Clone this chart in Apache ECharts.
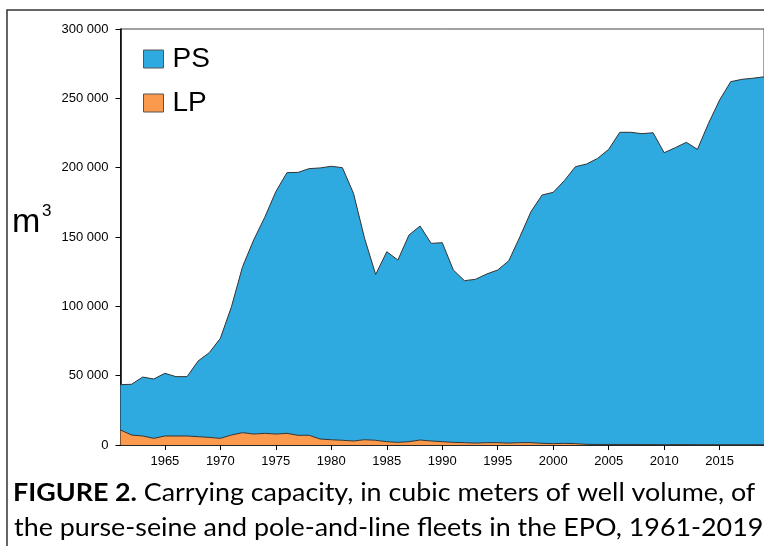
<!DOCTYPE html>
<html>
<head>
<meta charset="utf-8">
<script src="https://cdn.jsdelivr.net/npm/echarts@6/dist/echarts.min.js"></script>
<style>
  html, body { margin: 0; padding: 0; background: #fff; }
  #chart { width: 764px; height: 546px; }
</style>
</head>
<body>
<div id="chart"></div>
<script>
// years on the x axis
const years = [
  1961, 1962, 1963, 1964, 1965, 1966, 1967, 1968, 1969, 1970,
  1971, 1972, 1973, 1974, 1975, 1976, 1977, 1978, 1979, 1980,
  1981, 1982, 1983, 1984, 1985, 1986, 1987, 1988, 1989, 1990,
  1991, 1992, 1993, 1994, 1995, 1996, 1997, 1998, 1999, 2000,
  2001, 2002, 2003, 2004, 2005, 2006, 2007, 2008, 2009, 2010,
  2011, 2012, 2013, 2014, 2015, 2016, 2017, 2018, 2019
]

// pole-and-line (bottom of the stack), m3
const lpValues = [
  10800, 7200, 6500, 4800, 6500, 6500, 6500, 6000, 5500, 4800,
  7200, 8900, 7900, 8400, 7900, 8400, 7000, 7000, 4300, 3800,
  3400, 2900, 3800, 3400, 2400, 1900, 2400, 3600, 2900, 2400,
  1900, 1700, 1400, 1700, 1700, 1400, 1700, 1700, 1200, 1000,
  1200, 1000, 500, 400, 400, 400, 400, 300, 300, 200,
  300, 300, 200, 200, 200, 200, 200, 200, 200
]

// purse-seine (stacked on top of LP), m3
const psValues = [
  32700, 36600, 42500, 42800, 45200, 42800, 42800, 54600, 61100, 72100,
  92500, 119700, 139900, 155800, 174800, 188000, 189600, 192300, 195500, 197200,
  196600, 178600, 145200, 119600, 137000, 131500, 149000, 154300, 142500, 143500,
  124300, 116800, 118100, 121600, 124500, 131500, 148500, 166600, 179100, 181200,
  189400, 199700, 202100, 206300, 212800, 225100, 225100, 224200, 224900, 210600,
  214100, 218000, 213000, 231800, 248600, 261800, 263500, 264300, 265300
]

const seriesNames = ['PS', 'LP']
const psColor = '#2eaae1'
const lpColor = '#fb9a4c'

const chart = echarts.init(document.getElementById('chart'))

const fmt = v => String(v).replace(/\B(?=(\d{3})+(?!\d))/g, ' ')
const every5 = (i, v) => Number(v) % 5 === 0

const option = {
  animation: false,
  backgroundColor: '#fff',
  grid: {
    left: 120.5,
    top: 29,
    right: -5.5,
    bottom: 101,
    show: true,
    borderColor: '#444',
    borderWidth: 1
  },
  legend: {
    data: seriesNames,
    orient: 'vertical',
    left: 143,
    top: 45,
    padding: 0,
    itemWidth: 20,
    itemHeight: 18,
    itemGap: 16,
    icon: 'rect',
    itemStyle: { borderColor: '#555', borderWidth: 1 },
    textStyle: {
      fontFamily: 'Liberation Sans, Arial, sans-serif',
      fontSize: 28,
      color: '#000',
      padding: [0, 0, 0, 4]
    }
  },
  xAxis: {
    type: 'category',
    data: years,
    boundaryGap: false,
    axisLine: { lineStyle: { color: '#000', width: 1.5 } },
    axisTick: { interval: every5, length: 5, lineStyle: { color: '#000' } },
    axisLabel: {
      interval: every5,
      margin: 10,
      fontFamily: 'Liberation Sans, Arial, sans-serif',
      fontSize: 13,
      color: '#000'
    },
    splitLine: { show: false }
  },
  yAxis: {
    type: 'value',
    min: 0,
    max: 300000,
    interval: 50000,
    axisLine: { show: true, lineStyle: { color: '#000', width: 1.5 } },
    axisTick: { show: true, length: 5, lineStyle: { color: '#000' } },
    axisLabel: {
      margin: 12,
      fontFamily: 'Liberation Sans, Arial, sans-serif',
      fontSize: 13,
      color: '#000',
      formatter: fmt
    },
    splitLine: { show: false }
  },
  series: [
    {
      name: 'LP',
      type: 'line',
      stack: 'total',
      data: lpValues,
      symbol: 'none',
      lineStyle: { color: '#333', width: 1 },
      areaStyle: { color: lpColor, opacity: 1 },
      itemStyle: { color: lpColor }
    },
    {
      name: 'PS',
      type: 'line',
      stack: 'total',
      data: psValues,
      symbol: 'none',
      lineStyle: { color: '#333', width: 1 },
      areaStyle: { color: psColor, opacity: 1 },
      itemStyle: { color: psColor }
    }
  ],
  graphic: [
    {
      type: 'rect',
      silent: true,
      shape: { x: 7, y: 10, width: 900, height: 700 },
      style: { fill: null, stroke: '#333', lineWidth: 1.5 }
    },
    {
      type: 'text',
      left: 12,
      top: 206,
      style: {
        text: 'm',
        font: '34px "Liberation Sans", Arial, sans-serif',
        fill: '#000'
      }
    },
    {
      type: 'text',
      left: 42,
      top: 203,
      style: {
        text: '3',
        font: '17px "Liberation Sans", Arial, sans-serif',
        fill: '#000'
      }
    },
    {
      // caption, stretched a little to the width of the figure
      type: 'text',
      x: 13,
      y: 493,
      scaleX: 1.075,
      style: {
        text: '{b|FIGURE 2.} Carrying capacity, in cubic meters of well volume, of',
        font: '25px Lato, sans-serif',
        fill: '#000',
        verticalAlign: 'middle',
        rich: { b: { font: 'bold 25px Lato, sans-serif', fill: '#000' } }
      }
    },
    {
      type: 'text',
      x: 14,
      y: 528,
      scaleX: 1.075,
      style: {
        text: 'the purse-seine and pole-and-line fleets in the EPO, 1961-2019',
        font: '25px Lato, sans-serif',
        fill: '#000',
        verticalAlign: 'middle'
      }
    }
  ]
}

chart.setOption(option)
</script>
</body>
</html>
